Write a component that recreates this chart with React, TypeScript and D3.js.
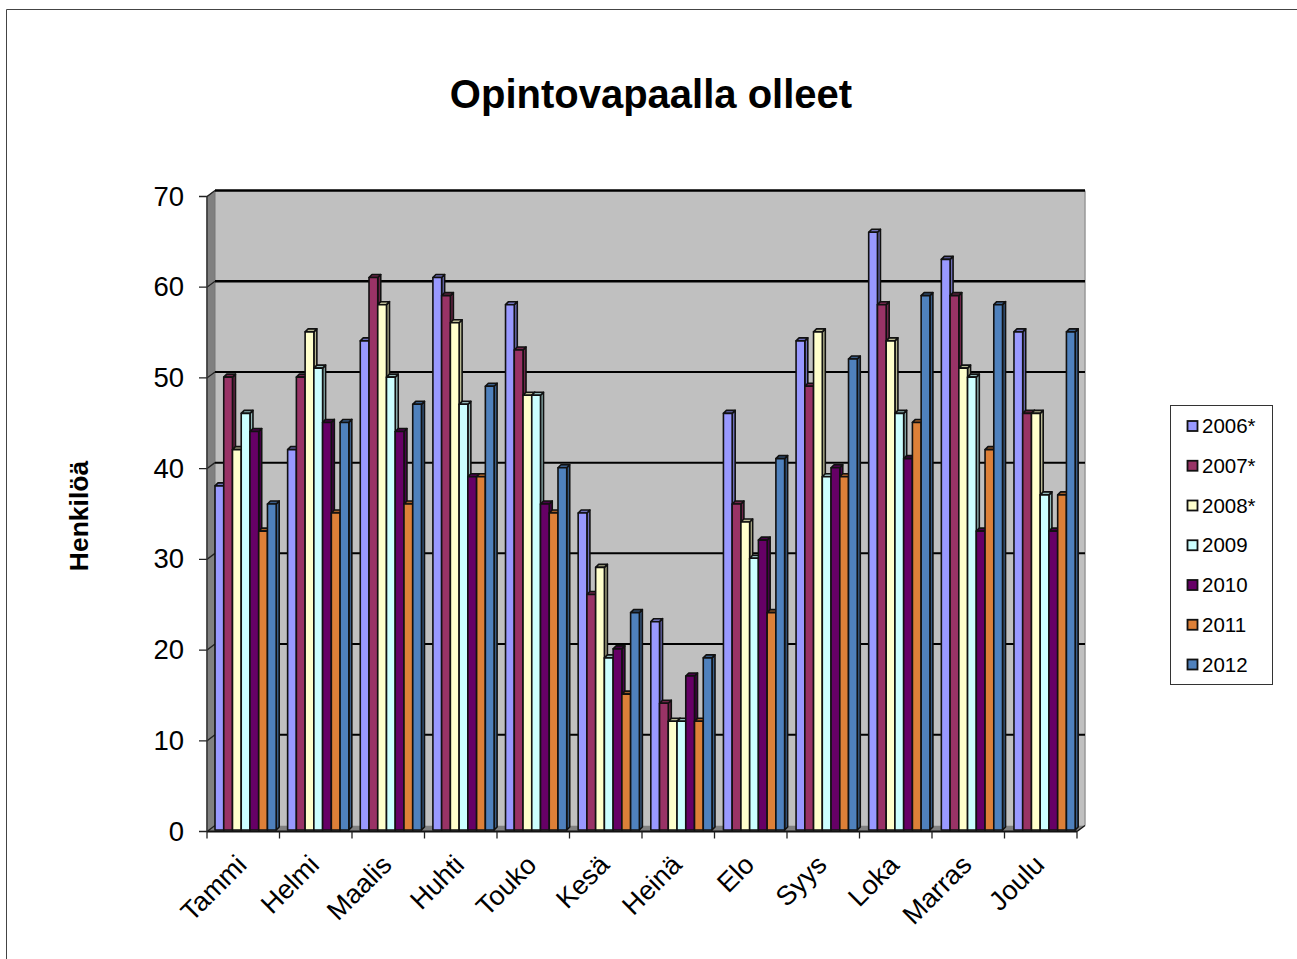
import React from "react";
import * as d3 from "d3";

const months = ["Tammi","Helmi","Maalis","Huhti","Touko","Kesä","Heinä","Elo","Syys","Loka","Marras","Joulu"];
const seriesNames = ["2006*","2007*","2008*","2009","2010","2011","2012"];
const colors = ["#9999FF","#993366","#FFFFCC","#CCFFFF","#660066","#DD8038","#4F81BD"];
const sideColors = ["#6E6EB8","#6E2549","#B8B893","#93B8B8","#490049","#9F5C28","#395D88"];
const v2006 = [38,42,54,61,58,35,23,46,54,66,63,55];
const v2007 = [50,50,61,59,53,26,14,36,49,58,59,46];
const v2008 = [42,55,58,56,48,29,12,34,55,54,51,46];
const v2009 = [46,51,50,47,48,19,12,30,39,46,50,37];
const v2010 = [44,45,44,39,36,20,17,32,40,41,33,33];
const v2011 = [33,35,36,39,35,15,12,24,39,45,42,37];
const v2012 = [36,45,47,49,40,24,19,41,52,59,58,55];
const seriesValues = [v2006,v2007,v2008,v2009,v2010,v2011,v2012];
const yTicks = [0,10,20,30,40,50,60,70];

const FONT = "'Liberation Sans', Arial, sans-serif";
const x0 = 207, x1 = 1077, yBase = 831.5, yTop = 196.5, dx = 8, dy = 6;
const y = d3.scaleLinear().domain([0,70]).range([yBase,yTop]);
const xCat = d3.scaleBand<string>().domain(months).range([x0,x1]);
const xGroup = d3.scaleBand<string>().domain(months).range([x0,x1+1.6]);
const xBar = d3.scaleBand<string>().domain(seriesNames).range([8,69.2]);
const barBase = 830;
const barY = d3.scaleLinear().domain([0,70]).range([barBase,barBase-634]);
const bd = 3;

export default function App() {
  const bw = xBar.bandwidth();
  return (
    <svg width={1297} height={959} style={{position:"absolute",left:0,top:0,display:"block",background:"#fff"}} fontFamily={FONT}>
      <path d="M6.5 959V9.5H1297" fill="none" stroke="#444" strokeWidth={1}/>
      <text x={651} y={108} textAnchor="middle" fontSize={40} fontWeight="bold">Opintovapaalla olleet</text>
      <text transform="translate(88,516) rotate(-90)" textAnchor="middle" fontSize={26.5} fontWeight="bold">Henkilöä</text>

      {/* walls */}
      <rect x={x0+dx} y={yTop-dy} width={x1-x0} height={yBase-yTop} fill="#C0C0C0"/>
      <polygon points={`${x0},${yTop} ${x0+dx},${yTop-dy} ${x0+dx},${yBase-dy} ${x0},${yBase}`} fill="#808080" stroke="#777" strokeWidth={1}/>
      <polygon points={`${x0},${yBase} ${x0+dx},${yBase-dy} ${x1+dx},${yBase-dy} ${x1},${yBase}`} fill="#808080"/>
      <line x1={x1+dx} x2={x1+dx} y1={yTop-dy} y2={yBase-dy} stroke="#999" strokeWidth={1.5}/>

      {yTicks.map(t => (
        <g key={t}>
          {t>0 && <line x1={x0+dx} x2={x1+dx} y1={y(t)-dy} y2={y(t)-dy} stroke="#000" strokeWidth={t===60||t===70?2.5:2}/>}
          <path d={`M${x0-8} ${y(t)}H${x0}L${x0+dx} ${y(t)-dy}`} fill="none" stroke="#222" strokeWidth={1.3}/>
          <text x={184} y={y(t)+9} textAnchor="end" fontSize={27.5}>{t}</text>
        </g>
      ))}

      {/* bars */}
      {months.map((m,i) => seriesNames.map((s,j) => {
        const v = seriesValues[j][i];
        const bx = (xGroup(m) as number) + (xBar(s) as number);
        const by = barY(v);
        return (
          <g key={m+s} stroke="#111" strokeWidth={1.6} strokeLinejoin="round">
            <polygon points={`${bx+bw},${by} ${bx+bw+bd},${by-bd} ${bx+bw+bd},${barBase-bd} ${bx+bw},${barBase}`} fill={sideColors[j]}/>
            <polygon points={`${bx},${by} ${bx+bd},${by-bd} ${bx+bw+bd},${by-bd} ${bx+bw},${by}`} fill={sideColors[j]}/>
            <rect x={bx} y={by} width={bw} height={barBase-by} fill={colors[j]}/>
          </g>
        );
      }))}

      {/* front axis */}
      <line x1={x0} x2={x1} y1={yBase} y2={yBase} stroke="#111" strokeWidth={2}/>
      <line x1={x1} x2={x1+dx} y1={yBase} y2={yBase-dy} stroke="#111" strokeWidth={1.3}/>
      <line x1={x0} x2={x0} y1={yTop} y2={yBase} stroke="#333" strokeWidth={1.5}/>
      {d3.range(13).map(i => {
        const tx = x0 + i*xCat.step();
        return <line key={i} x1={tx} x2={tx} y1={yBase} y2={yBase+7} stroke="#222" strokeWidth={1.3}/>;
      })}
      {months.map(m => {
        const cx = (xCat(m) as number) + xCat.step()/2;
        return <text key={m} transform={`translate(${cx+5},${yBase+35}) rotate(-45)`} textAnchor="end" fontSize={27}>{m}</text>;
      })}

      {/* legend */}
      <rect x={1170.5} y={405.5} width={102} height={279} fill="#fff" stroke="#333" strokeWidth={1}/>
      {seriesNames.map((s,j) => {
        const ly = d3.scalePoint<string>().domain(seriesNames).range([426,664.5])(s) as number;
        return (
          <g key={s}>
            <rect x={1187.5} y={ly-5} width={10} height={10} fill={colors[j]} stroke="#111" strokeWidth={1.8}/>
            <text x={1202} y={ly+7} fontSize={20.5}>{s}</text>
          </g>
        );
      })}
    </svg>
  );
}
